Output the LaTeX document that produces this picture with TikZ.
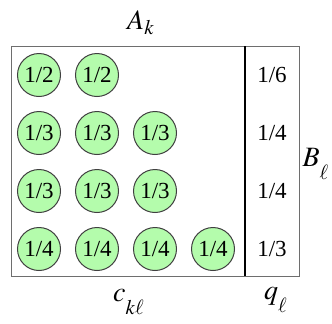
\documentclass[tikz,border=0pt]{standalone}
\usepackage{mathptmx}
\usepackage[no-math]{fontspec}
\setmainfont{Liberation Serif}
\usepackage{tikz}
\usetikzlibrary{positioning}
\definecolor{cellcol}{RGB}{180,252,172}
\definecolor{framecol}{RGB}{110,110,110}
\newcommand{\dropsub}[1]{\lower4pt\hbox{$\scriptstyle#1$}}

\begin{document}
\begin{tikzpicture}[
  x=0.5pt,y=-0.5pt,
  cell/.style={circle,draw=black!75,fill=cellcol,minimum size=21.5pt,
               inner sep=0pt,line width=0.5pt,font=\fontsize{11.5}{13}\selectfont},
  qval/.style={font=\fontsize{11.5}{13}\selectfont},
  lab/.style={font=\fontsize{14}{16}\selectfont},
  frame/.style={draw=framecol,line width=0.5pt},
  divider/.style={draw=black,line width=0.8pt}
]
\useasboundingbox (0,0) rectangle (332,323);
\def\xl{11}\def\xd{245}\def\xr{299}\def\yt{46}\def\yb{276}
% table frame and divider
\coordinate (nw) at (\xl,\yt);
\coordinate (se) at (\xr,\yb);
\coordinate (dt) at (\xd,\yt);
\coordinate (db) at (\xd,\yb);
\draw[frame] (nw) rectangle (se);
\draw[divider] (dt) -- (db);
% cells c_{k l}
\foreach \i/\n in {1/2,2/2}
  \node[cell] (c1\i) at ({39+58*(\i-1)},75) {1/\n};
\foreach \i in {1,2,3}
  \node[cell] (c2\i) at ({39+58*(\i-1)},133) {1/3};
\foreach \i in {1,2,3}
  \node[cell] (c3\i) at ({39+58*(\i-1)},191) {1/3};
\foreach \i in {1,2,3,4}
  \node[cell] (c4\i) at ({39+58*(\i-1)},249) {1/4};
% q_l column
\node[qval] (q1) at (272,75)  {1/6};
\node[qval] (q2) at (272,133) {1/4};
\node[qval] (q3) at (272,191) {1/4};
\node[qval] (q4) at (272,249) {1/3};
% labels
\node[lab] (ak) at (141,23)  {$A_k$};
\node[lab] (bl) at (316,164) {$B_{\dropsub{\ell}}$};
\node[lab] (ckl) at (129,302) {$c_{\dropsub{k\ell}}$};
\node[lab] (ql) at (276,300) {$q_{\dropsub{\ell}}$};
\end{tikzpicture}
\end{document}
